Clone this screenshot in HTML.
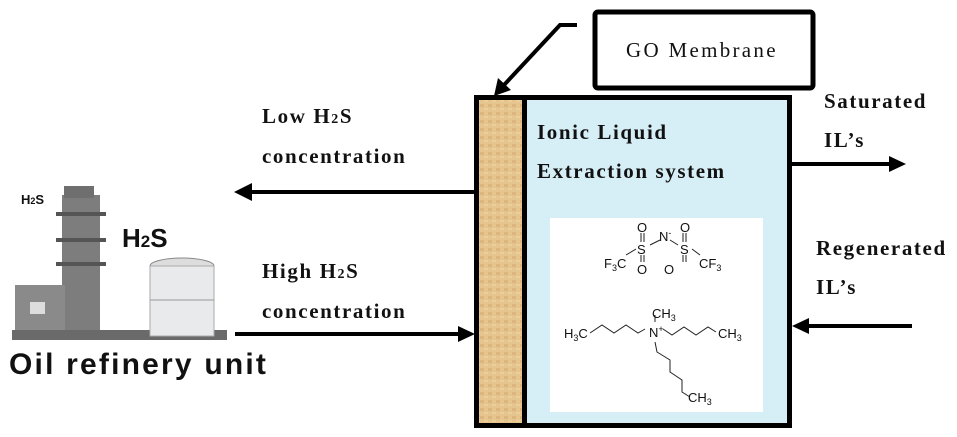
<!DOCTYPE html>
<html><head><meta charset="utf-8"><style>
html,body{margin:0;padding:0;background:#fff;}
svg{display:block}
.t{font-family:"Liberation Serif",serif;font-size:21px;letter-spacing:1.6px;fill:#111;}
.s{font-family:"Liberation Sans",sans-serif;font-size:13px;fill:#111;}
</style></head><body>
<svg width="957" height="437" viewBox="0 0 957 437" xmlns="http://www.w3.org/2000/svg">
<defs>
<pattern id="wood" width="8" height="8" patternUnits="userSpaceOnUse">
<rect width="8" height="8" fill="#e6c48e"/><rect width="4" height="3" fill="#dcb67c"/><rect x="4" y="4" width="4" height="2" fill="#eccf9c"/>
</pattern>
</defs>
<rect x="476.5" y="97.5" width="313" height="328" fill="#d6eef5" stroke="#000" stroke-width="5"/>
<rect x="479" y="100" width="43" height="323" fill="url(#wood)"/>
<rect x="522" y="98" width="5" height="326" fill="#000"/>
<rect x="550" y="218" width="213" height="194" fill="#fff"/>
<text class="t" x="537" y="139" font-weight="bold">Ionic Liquid</text>
<text class="t" x="537" y="178" font-weight="bold">Extraction system</text>
<rect x="595" y="12" width="218" height="76" rx="3" fill="#fff" stroke="#000" stroke-width="5"/>
<text class="t" x="626" y="57" style="letter-spacing:2.3px">GO Membrane</text>
<polyline points="577,25 560,25 504,85" fill="none" stroke="#000" stroke-width="4"/>
<polygon points="494,96 498,78 511,90" fill="#000"/>
<line x1="475" y1="192" x2="248" y2="192" stroke="#000" stroke-width="4"/>
<polygon points="234,192 252,183 252,201" fill="#000"/>
<line x1="235" y1="334" x2="460" y2="334" stroke="#000" stroke-width="4"/>
<polygon points="475,334 458,326 458,342" fill="#000"/>
<text class="t" x="262" y="123" font-weight="bold">Low H<tspan font-size="14">2</tspan>S</text>
<text class="t" x="262" y="163" font-weight="bold">concentration</text>
<text class="t" x="262" y="278" font-weight="bold">High H<tspan font-size="14">2</tspan>S</text>
<text class="t" x="262" y="318" font-weight="bold">concentration</text>
<line x1="792" y1="164" x2="892" y2="164" stroke="#000" stroke-width="4"/>
<polygon points="906,164 889,156 889,172" fill="#000"/>
<line x1="912" y1="326" x2="808" y2="326" stroke="#000" stroke-width="4"/>
<polygon points="792,326 809,318 809,334" fill="#000"/>
<text class="t" x="824" y="108" font-weight="bold">Saturated</text>
<text class="t" x="824" y="147" font-weight="bold">IL’s</text>
<text class="t" x="816" y="255" font-weight="bold">Regenerated</text>
<text class="t" x="816" y="294" font-weight="bold">IL’s</text>
<g stroke="#222" stroke-width="1" fill="none">
<path d="M626,255 L636,249 M650,245 L660,240 M670,240 L678,245 M692,249 L700,255"/>
<path d="M641,233 L641,242 M644,233 L644,242 M641,255 L641,262 M644,255 L644,262 M683,233 L683,242 M686,233 L686,242 M683,255 L683,262 M686,255 L686,262"/>
<path d="M590,333 L602,325 L614,333 L626,325 L638,333 L645,329 M663,329 L672,335 L684,327 L696,335 L708,327 L716,332 M655,315 L655,322 M655,342 L657,352 L670,360 L670,372 L682,380 L682,392 L690,397"/>
</g>
<g class="s">
<text x="604" y="268">F<tspan font-size="9" dy="3">3</tspan><tspan dy="-3">C</tspan></text>
<text x="637" y="254">S</text><text x="680" y="254">S</text>
<text x="637" y="232">O</text><text x="680" y="232">O</text>
<text x="637" y="274">O</text><text x="664" y="274">O</text>
<text x="659" y="241">N<tspan font-size="9" dy="-5">-</tspan></text>
<text x="699" y="268">CF<tspan font-size="9" dy="3">3</tspan></text>
<text x="564" y="338">H<tspan font-size="9" dy="3">3</tspan><tspan dy="-3">C</tspan></text>
<text x="649" y="337">N<tspan font-size="9" dy="-5">+</tspan></text>
<text x="652" y="318">CH<tspan font-size="9" dy="3">3</tspan></text>
<text x="718" y="338">CH<tspan font-size="9" dy="3">3</tspan></text>
<text x="688" y="402">CH<tspan font-size="9" dy="3">3</tspan></text>
</g>
<g>
<rect x="62" y="195" width="38" height="140" fill="#7d7d7d"/>
<rect x="64" y="186" width="30" height="12" fill="#6f6f6f"/>
<rect x="56" y="212" width="50" height="4" fill="#555"/>
<rect x="56" y="238" width="50" height="4" fill="#555"/>
<rect x="56" y="262" width="50" height="4" fill="#555"/>
<rect x="15" y="285" width="50" height="50" fill="#8a8a8a"/>
<rect x="30" y="302" width="15" height="12" fill="#ddd"/>
<rect x="12" y="330" width="215" height="10" fill="#6a6a6a"/>
<ellipse cx="182" cy="266" rx="32" ry="8" fill="#ddd" stroke="#888"/>
<rect x="150" y="266" width="64" height="70" fill="#e8eaec" stroke="#aaa"/>
<line x1="150" y1="300" x2="214" y2="300" stroke="#999"/>
</g>
<text x="21" y="204" font-family="Liberation Sans,sans-serif" font-weight="bold" font-size="13" fill="#111">H<tspan font-size="9">2</tspan>S</text>
<text x="122" y="247" font-family="Liberation Sans,sans-serif" font-weight="bold" font-size="26" fill="#111">H<tspan font-size="17">2</tspan>S</text>
<text x="9" y="374" font-family="Liberation Sans,sans-serif" font-weight="bold" font-size="30" letter-spacing="2.2" fill="#111">Oil refinery unit</text>
</svg>
</body></html>
